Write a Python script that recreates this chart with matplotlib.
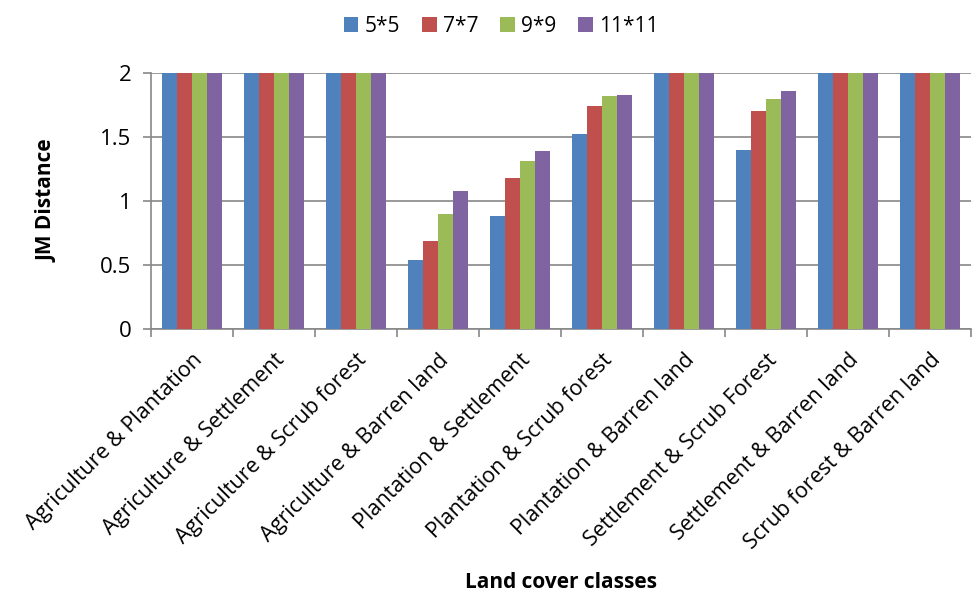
import numpy as np
import matplotlib
matplotlib.use('Agg')
import matplotlib.pyplot as plt

plt.rcParams['font.family'] = ['Open Sans', 'DejaVu Sans']

categories = ["Agriculture & Plantation", "Agriculture & Settlement",
              "Agriculture & Scrub forest", "Agriculture & Barren land",
              "Plantation & Settlement", "Plantation & Scrub forest",
              "Plantation & Barren land", "Settlement & Scrub Forest",
              "Settlement & Barren land", "Scrub forest & Barren land"]
series = ["5*5", "7*7", "9*9", "11*11"]
w5 = [2, 2, 2, 0.54, 0.88, 1.52, 2, 1.40, 2, 2]
w7 = [2, 2, 2, 0.69, 1.18, 1.74, 2, 1.70, 2, 2]
w9 = [2, 2, 2, 0.90, 1.31, 1.82, 2, 1.80, 2, 2]
w11 = [2, 2, 2, 1.08, 1.39, 1.83, 2, 1.86, 2, 2]
colors = ["#4F81BD", "#C0504D", "#9BBB59", "#8064A2"]

fig = plt.figure(figsize=(9.73, 5.98), dpi=100)
ax = fig.add_axes([0.155, 0.450, 0.843, 0.428])

x = np.arange(len(categories))
bw = 0.183
for i, (vals, c, name) in enumerate(zip([w5, w7, w9, w11], colors, series)):
    ax.bar(x + (i - 1.5) * bw, vals, bw, color=c, label=name, zorder=3)

ax.set_xlim(-0.5, len(categories) - 0.5)
ax.set_ylim(0, 2)
ax.set_yticks([0, 0.5, 1, 1.5, 2])
ax.set_yticklabels(["0", "0.5", "1", "1.5", "2"])
ax.grid(axis='y', color='#878787', linewidth=1.2, zorder=0)

ax.set_xticks(x)
ax.set_xticklabels(categories, rotation=45, ha='right', rotation_mode='anchor', fontsize=15.5)
ax.set_xticks(np.arange(len(categories) + 1) - 0.5, minor=True)
ax.tick_params(axis='x', which='major', length=0, pad=15)
ax.tick_params(axis='x', which='minor', length=6, color='#878787', width=1.2)
ax.tick_params(axis='y', length=6, color='#878787', width=1.2, labelsize=16, pad=8)

for s in ['top', 'right']:
    ax.spines[s].set_visible(False)
for s in ['left', 'bottom']:
    ax.spines[s].set_color('#878787')
    ax.spines[s].set_linewidth(1.2)

ax.set_ylabel("JM Distance", fontsize=15, fontweight='bold', labelpad=31)
ax.set_xlabel("Land cover classes", fontsize=15, fontweight='bold', labelpad=13)

fig.legend(loc='upper center', bbox_to_anchor=(0.515, 1.005), ncol=4, frameon=False,
           fontsize=15, handlelength=0.7, handleheight=0.7, handletextpad=0.3,
           columnspacing=1.05)

fig.savefig('out.png', dpi=100)
